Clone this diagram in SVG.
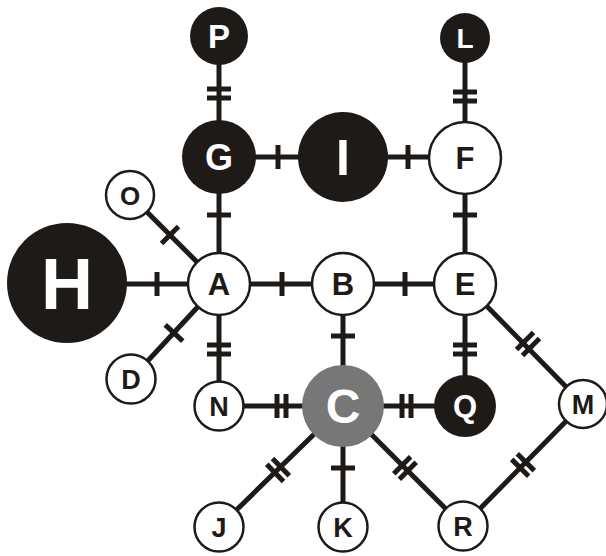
<svg xmlns="http://www.w3.org/2000/svg" width="606" height="556" viewBox="0 0 606 556">
<style>
.e{stroke:#1e1a18;stroke-width:5;fill:none}
.t{stroke:#1e1a18;stroke-width:5;fill:none}
.bk{fill:#1e1a18}
.wh{fill:#fff;stroke:#1e1a18;stroke-width:2.5}
.gr{fill:#777}
text{font-family:"Liberation Sans",Arial,sans-serif;font-weight:bold;text-anchor:middle}
.lw{fill:#fff}
.lb{fill:#1e1a18}
</style>
<rect width="606" height="556" fill="#fff"/>
<g id="connectors">
<line class="e" x1="219" y1="36" x2="219" y2="157"/>
<line class="e" x1="465" y1="38" x2="465" y2="158"/>
<line class="e" x1="219" y1="157" x2="465" y2="157"/>
<line class="e" x1="219" y1="157" x2="219" y2="406"/>
<line class="e" x1="465" y1="157" x2="465" y2="406"/>
<line class="e" x1="130" y1="195" x2="219" y2="284"/>
<line class="e" x1="131" y1="379" x2="219" y2="284"/>
<line class="e" x1="67" y1="284" x2="465" y2="284"/>
<line class="e" x1="343" y1="284" x2="343" y2="527"/>
<line class="e" x1="219" y1="406" x2="465" y2="406"/>
<line class="e" x1="465" y1="284" x2="583" y2="404"/>
<line class="e" x1="583" y1="404" x2="463" y2="526"/>
<line class="e" x1="343" y1="406" x2="219" y2="527"/>
<line class="e" x1="343" y1="406" x2="463" y2="526"/>
<!-- ticks -->
<line class="t" x1="207" y1="89" x2="231" y2="89"/>
<line class="t" x1="207" y1="98" x2="231" y2="98"/>
<line class="t" x1="453" y1="92" x2="477" y2="92"/>
<line class="t" x1="453" y1="101" x2="477" y2="101"/>
<line class="t" x1="278" y1="145" x2="278" y2="169"/>
<line class="t" x1="408" y1="145" x2="408" y2="169"/>
<line class="t" x1="207" y1="215" x2="231" y2="215"/>
<line class="t" x1="453" y1="215" x2="477" y2="215"/>
<line class="t" x1="157" y1="272" x2="157" y2="296"/>
<line class="t" x1="282" y1="272" x2="282" y2="296"/>
<line class="t" x1="405" y1="272" x2="405" y2="296"/>
<line class="t" x1="161.5" y1="243.5" x2="178.5" y2="226.5"/>
<line class="t" x1="165.2" y1="324.8" x2="182.8" y2="341.2"/>
<line class="t" x1="207" y1="345" x2="231" y2="345"/>
<line class="t" x1="207" y1="354" x2="231" y2="354"/>
<line class="t" x1="331" y1="336" x2="355" y2="336"/>
<line class="t" x1="453" y1="345" x2="477" y2="345"/>
<line class="t" x1="453" y1="354" x2="477" y2="354"/>
<line class="t" x1="277" y1="394" x2="277" y2="418"/>
<line class="t" x1="286" y1="394" x2="286" y2="418"/>
<line class="t" x1="402" y1="394" x2="402" y2="418"/>
<line class="t" x1="411" y1="394" x2="411" y2="418"/>
<line class="t" x1="516.5" y1="349.5" x2="533.5" y2="332.5"/>
<line class="t" x1="522.5" y1="355.5" x2="539.5" y2="338.5"/>
<line class="t" x1="517.3" y1="453.8" x2="534.3" y2="470.6"/>
<line class="t" x1="511.7" y1="459.4" x2="528.7" y2="476.2"/>
<line class="t" x1="272.5" y1="458.6" x2="289.3" y2="475.8"/>
<line class="t" x1="266.7" y1="464.2" x2="283.5" y2="481.4"/>
<line class="t" x1="331" y1="468" x2="355" y2="468"/>
<line class="t" x1="393.8" y1="473.7" x2="410.6" y2="456.7"/>
<line class="t" x1="399.4" y1="479.3" x2="416.2" y2="462.3"/>
</g>
<g id="P"><circle class="bk" cx="219" cy="36" r="29"/><text class="lw" x="219" y="47.8" font-size="33">P</text></g>
<g id="L"><circle class="bk" cx="465" cy="38" r="25"/><text class="lw" x="465" y="48" font-size="28">L</text></g>
<g id="G"><circle class="bk" cx="219" cy="157" r="37"/><text class="lw" x="219" y="169.9" font-size="36">G</text></g>
<g id="I"><circle class="bk" cx="343" cy="157" r="45"/><text class="lw" x="343" y="175" font-size="50">I</text></g>
<g id="F"><circle class="wh" cx="465" cy="158" r="36"/><text class="lb" x="465" y="169" font-size="31">F</text></g>
<g id="O"><circle class="wh" cx="130" cy="195" r="24"/><text class="lb" x="130" y="204.5" font-size="26">O</text></g>
<g id="H"><circle class="bk" cx="67" cy="283" r="60"/><text class="lw" x="67" y="308.8" font-size="72">H</text></g>
<g id="A"><circle class="wh" cx="219" cy="284" r="31"/><text class="lb" x="219" y="295" font-size="31">A</text></g>
<g id="B"><circle class="wh" cx="343" cy="284" r="31"/><text class="lb" x="343" y="295" font-size="31">B</text></g>
<g id="E"><circle class="wh" cx="465" cy="284" r="31"/><text class="lb" x="465" y="295" font-size="31">E</text></g>
<g id="D"><circle class="wh" cx="131" cy="379" r="24.5"/><text class="lb" x="131" y="388.7" font-size="27">D</text></g>
<g id="N"><circle class="wh" cx="219" cy="406" r="24.5"/><text class="lb" x="219" y="415.7" font-size="27">N</text></g>
<g id="C"><circle class="gr" cx="343" cy="406" r="41"/><text class="lw" x="343" y="423.2" font-size="48">C</text></g>
<g id="Q"><circle class="bk" cx="465" cy="406" r="31"/><text class="lw" x="465" y="417" font-size="31">Q</text></g>
<g id="M"><circle class="wh" cx="583" cy="404" r="24"/><text class="lb" x="583" y="413.7" font-size="27">M</text></g>
<g id="J"><circle class="wh" cx="219" cy="527" r="24.5"/><text class="lb" x="219" y="536.7" font-size="27">J</text></g>
<g id="K"><circle class="wh" cx="343" cy="527" r="24.5"/><text class="lb" x="343" y="536.7" font-size="27">K</text></g>
<g id="R"><circle class="wh" cx="463" cy="526" r="24.5"/><text class="lb" x="463" y="535.7" font-size="27">R</text></g>
</svg>
